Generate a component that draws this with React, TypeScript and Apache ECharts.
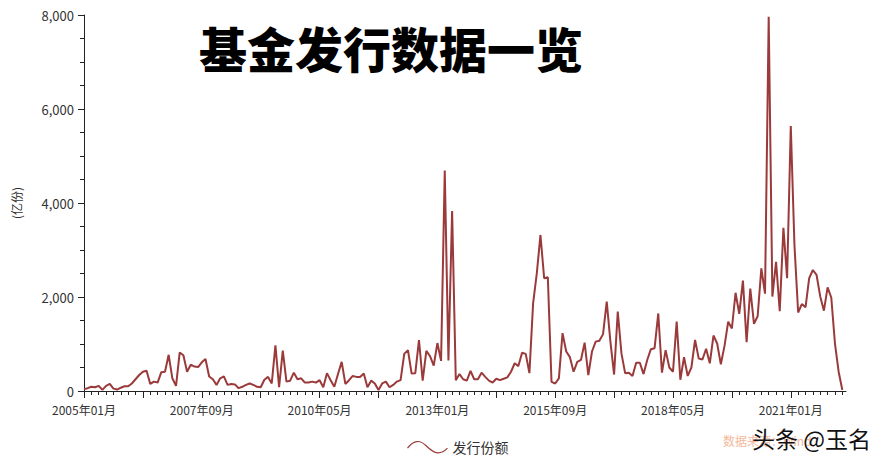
import React, { useEffect, useRef } from "react";
import * as echarts from "echarts";

const startYear = 2005;
const monthCount = 208;
const categories: string[] = [];
for (let i = 0; i < monthCount; i++) {
  const y = startYear + Math.floor(i / 12);
  const m = (i % 12) + 1;
  categories.push(`${y}年${m < 10 ? "0" + m : m}月`);
}

const issueValues: (number | null)[] = [
  40, 60, 90, 80, 110, 25, 110, 150, 50, 30, 70, 100,
  100, 160, 250, 340, 410, 430, 150, 200, 180, 400, 410, 770,
  270, 110, 820, 760, 410, 560, 520, 510, 610, 680, 310, 250,
  130, 270, 310, 130, 150, 140, 60, 90, 130, 160, 130, 90,
  80, 240, 300, 160, 970, 80, 860, 200, 220, 390, 250, 270,
  180, 180, 200, 180, 230, 80, 380, 230, 90, 360, 620, 150,
  230, 320, 300, 300, 370, 80, 220, 160, 20, 160, 200, 80,
  130, 200, 230, 790, 870, 370, 380, 1085, 220, 855, 740, 540,
  1020, 640, 4690, 650, 3830, 230, 360, 250, 220, 430, 250, 250,
  390, 300, 220, 180, 260, 230, 260, 290, 410, 590, 530, 815,
  790, 380, 1865, 2500, 3320, 2400, 2420, 195, 160, 270, 1230, 840,
  720, 410, 620, 660, 1030, 340, 840, 1050, 1070, 1210, 1900, 1050,
  350, 1690, 800, 380, 390, 320, 600, 600, 360, 660, 890, 910,
  1650, 390, 870, 500, 410, 1475, 240, 720, 320, 500, 1085, 690,
  670, 900, 590, 1180, 1010, 570, 960, 1475, 1330, 2090, 1640, 2350,
  1040, 2180, 1430, 1590, 2610, 2070, 7960, 2010, 2750, 1700, 3470, 2400,
  5640, 3100, 1670, 1850, 1780, 2400, 2575, 2470, 2010, 1710, 2205, 1990,
  1010, 410, 20, null,
];

const seriesName = "发行份额";
const titleText = "基金发行数据一览";
const yAxisName = "(亿份)";
const sourceText = "数据来源：Wind";
const watermarkText = "头条 @玉名";

const FONT = "'Noto Sans CJK SC', 'Noto Sans', sans-serif";

export default function App() {
  const ref = useRef<HTMLDivElement>(null);
  useEffect(() => {
    document.body.style.margin = "0";
    const chart = echarts.init(ref.current!, null, { renderer: "svg" });
    chart.setOption({
      animation: false,
      backgroundColor: "#ffffff",
      textStyle: { fontFamily: FONT },
      title: {
        text: titleText,
        left: 194,
        top: 16,
        textStyle: {
          fontSize: 48,
          fontWeight: 900,
          color: "#000",
          fontFamily: FONT,
          lineHeight: 52,
        },
      },
      legend: {
        data: [seriesName],
        left: 400,
        top: 434,
        itemWidth: 40,
        itemHeight: 12,
        itemGap: 12,
        icon: "path://M0,6 C6,-2 12,-2 18,4 C24,10 30,14 38,6",
        itemStyle: { color: "none", borderColor: "#9b3a3a", borderWidth: 1.2 },
        textStyle: { fontSize: 14, color: "#333", fontFamily: FONT },
      },
      grid: { left: 84, right: 37, top: 15, bottom: 79, containLabel: false },
      xAxis: [
        {
          type: "category",
          data: categories,
          boundaryGap: false,
          axisLine: { lineStyle: { color: "#222", width: 1 } },
          axisTick: { interval: 1, length: 4, lineStyle: { color: "#222" } },
          axisLabel: {
            interval: 31,
            margin: 12,
            fontSize: 12,
            color: "#333",
            fontFamily: FONT,
          },
          splitLine: { show: false },
        },
        {
          type: "category",
          data: categories,
          boundaryGap: false,
          position: "bottom",
          axisLine: { show: false },
          axisTick: { interval: 15, length: 7, lineStyle: { color: "#222" } },
          axisLabel: { show: false },
          splitLine: { show: false },
        },
      ],
      yAxis: {
        type: "value",
        min: 0,
        max: 8000,
        interval: 2000,
        name: yAxisName,
        nameLocation: "middle",
        nameGap: 62,
        nameRotate: 90,
        nameTextStyle: { fontSize: 12, color: "#333", fontFamily: FONT },
        axisLine: { show: true, lineStyle: { color: "#222", width: 1 } },
        axisTick: { show: true, length: 6, lineStyle: { color: "#222" } },
        minorTick: { show: true, splitNumber: 4, length: 4, lineStyle: { color: "#222" } },
        splitLine: { show: false },
        axisLabel: {
          margin: 10,
          fontSize: 13,
          color: "#333",
          fontFamily: FONT,
          formatter: (v: number) => v.toLocaleString("en-US"),
        },
      },
      series: [
        {
          name: seriesName,
          type: "line",
          data: issueValues,
          symbol: "none",
          xAxisIndex: 0,
          lineStyle: { color: "#9b3a3a", width: 2 },
          itemStyle: { color: "#9b3a3a" },
        },
      ],
      graphic: [
        {
          type: "text",
          left: 723,
          top: 434,
          style: { text: sourceText, fontSize: 12, fill: "#f4b79b", fontFamily: FONT },
        },
        {
          type: "text",
          left: 752,
          top: 426,
          style: { text: watermarkText, fontSize: 23, fill: "#111", fontFamily: FONT },
        },
      ],
    });
    return () => chart.dispose();
  }, []);
  return (
    <div
      ref={ref}
      style={{ position: "fixed", left: 0, top: 0, width: 883, height: 470 }}
    />
  );
}
